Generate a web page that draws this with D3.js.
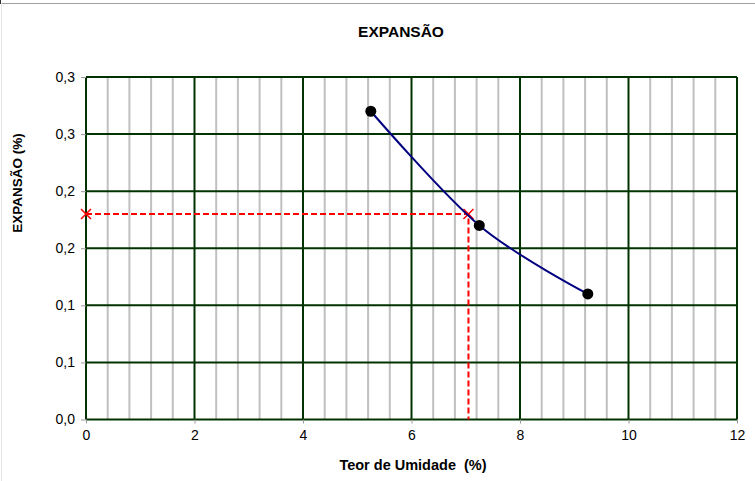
<!DOCTYPE html>
<html><head><meta charset="utf-8">
<script src="https://cdn.jsdelivr.net/npm/d3@7"></script>
<style>body{margin:0;background:#fff}svg{display:block;font-family:"Liberation Sans",Arial,sans-serif}text{white-space:pre}</style>
</head><body><svg id="c" width="755" height="481"></svg>
<script>
const moisture = [5.25, 7.25, 9.25];
const expansion = [0.270, 0.170, 0.110];
const readX = [7.05];
const readY = [0.180];
const xTicks = [0, 2, 4, 6, 8, 10, 12];
const yTicks = [0, 0.05, 0.10, 0.15, 0.20, 0.25, 0.30];
const yTickLabels = ["0,0", "0,1", "0,1", "0,2", "0,2", "0,3", "0,3"];
const title = "EXPANSÃO";
const xTitle = "Teor de Umidade  (%)";
const yTitle = "EXPANSÃO (%)";

const svg = d3.select("#c");
const L = 86, R = 737, T = 77, B = 419.5;
const x = d3.scaleLinear().domain([0, 12]).range([L, R]);
const y = d3.scaleLinear().domain([0, 0.30]).range([B, T]);

// frame
svg.append("line").attr("x1",0).attr("x2",755).attr("y1",3.5).attr("y2",3.5).attr("stroke","#a0a0a0").attr("stroke-width",1);
svg.append("line").attr("x1",1.5).attr("x2",1.5).attr("y1",3).attr("y2",481).attr("stroke","#e6e6e6").attr("stroke-width",1);
svg.append("line").attr("x1",0.5).attr("x2",0.5).attr("y1",0).attr("y2",4).attr("stroke","#333").attr("stroke-width",1);

// minor grid
const minor = d3.range(0.4, 12, 0.4).filter(v => Math.abs(v/2 - Math.round(v/2)) > 1e-6);
svg.append("g").selectAll("line").data(minor).join("line")
  .attr("x1", d => x(d)).attr("x2", d => x(d)).attr("y1", T).attr("y2", B)
  .attr("stroke", "#c0c0c0").attr("stroke-width", 2);

// major grid
svg.append("g").selectAll("line").data(xTicks).join("line")
  .attr("x1", d => x(d)).attr("x2", d => x(d)).attr("y1", T).attr("y2", B)
  .attr("stroke", "#003300").attr("stroke-width", 2);
svg.append("g").selectAll("line").data(yTicks).join("line")
  .attr("x1", L).attr("x2", R).attr("y1", d => y(d)).attr("y2", d => y(d))
  .attr("stroke", "#003300").attr("stroke-width", 2);

// axes
const xAxis = d3.axisBottom(x).tickValues(xTicks).tickFormat(d3.format("d")).tickSize(4).tickPadding(7);
const gx = svg.append("g").attr("transform", `translate(0,${B})`).call(xAxis);
gx.select(".domain").remove();
gx.selectAll("line").attr("stroke", "#999");
gx.selectAll("text").attr("font-size", 14).attr("fill", "#000");

const yAxis = d3.axisLeft(y).tickValues(yTicks).tickFormat((d,i) => yTickLabels[i]).tickSize(5).tickPadding(6);
const gy = svg.append("g").attr("transform", `translate(${L},0)`).call(yAxis);
gy.select(".domain").remove();
gy.selectAll("line").attr("stroke", "#999");
gy.selectAll("text").attr("font-size", 14).attr("fill", "#000");

// red reading lines
const rx = readX[0], ry = readY[0];
svg.append("path")
  .attr("d", d3.line()([[x(0), y(ry)], [x(rx), y(ry)], [x(rx), y(0)]]))
  .attr("fill", "none").attr("stroke", "#ff0000").attr("stroke-width", 2).attr("stroke-dasharray", "6,3");
const crosses = [[0, ry], [rx, ry]];
svg.append("g").selectAll("path").data(crosses).join("path")
  .attr("d", d => { const cx = x(d[0]), cy = y(d[1]), s = 5; return `M${cx-s},${cy-s}L${cx+s},${cy+s}M${cx-s},${cy+s}L${cx+s},${cy-s}`; })
  .attr("stroke", "#ff0000").attr("stroke-width", 1.5);

// curve
const pts = moisture.map((m, i) => [m, expansion[i]]);
svg.append("path")
  .attr("d", d3.line().x(d => x(d[0])).y(d => y(d[1])).curve(d3.curveCardinal.tension(0))(pts))
  .attr("fill", "none").attr("stroke", "#000080").attr("stroke-width", 2);
svg.append("g").selectAll("circle").data(pts).join("circle")
  .attr("cx", d => x(d[0])).attr("cy", d => y(d[1])).attr("r", 5.5).attr("fill", "#000");

// titles
svg.append("text").attr("x", 401).attr("y", 37).attr("text-anchor", "middle")
  .attr("font-size", 15.5).attr("font-weight", "bold").text(title);
svg.append("text").attr("x", 413).attr("y", 470).attr("text-anchor", "middle")
  .attr("font-size", 14.5).attr("font-weight", "bold").text(xTitle);
svg.append("text").attr("transform", "translate(22,183) rotate(-90)").attr("text-anchor", "middle")
  .attr("font-size", 13.5).attr("font-weight", "bold").text(yTitle);
</script></body></html>
